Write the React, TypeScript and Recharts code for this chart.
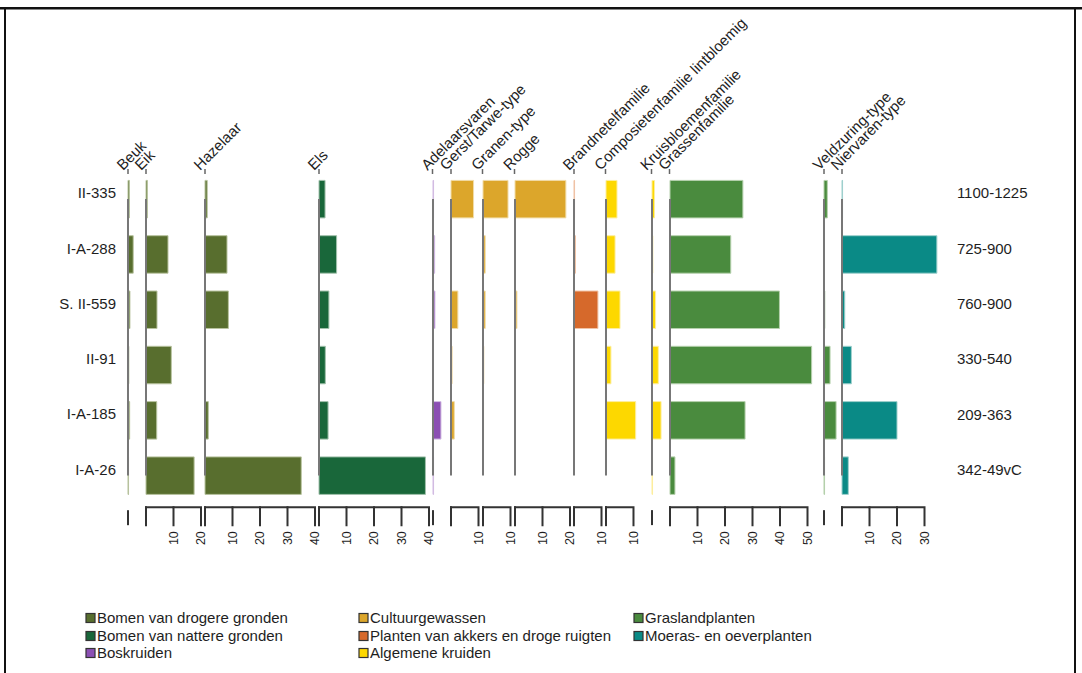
import React from "react";
import { BarChart, Bar, XAxis, YAxis, ReferenceLine } from "recharts";

const samples = ["II-335", "I-A-288", "S. II-559", "II-91", "I-A-185", "I-A-26"];
const ages = ["1100-1225", "725-900", "760-900", "330-540", "209-363", "342-49vC"];

const groupNames = [
  "Bomen van drogere gronden",
  "Bomen van nattere gronden",
  "Boskruiden",
  "Cultuurgewassen",
  "Planten van akkers en droge ruigten",
  "Algemene kruiden",
  "Graslandplanten",
  "Moeras- en oeverplanten",
];

const taxa = [
  "Beuk",
  "Eik",
  "Hazelaar",
  "Els",
  "Adelaarsvaren",
  "Gerst/Tarwe-type",
  "Granen-type",
  "Rogge",
  "Brandnetelfamilie",
  "Composietenfamilie lintbloemig",
  "Kruisbloemenfamilie",
  "Grassenfamilie",
  "Veldzuring-type",
  "Niervaren-type",
];
const taxonGroup = [0, 0, 0, 1, 2, 3, 3, 3, 4, 5, 5, 6, 6, 7];
const scaleMax = [0, 20, 40, 40, 0, 10, 10, 20, 10, 10, 0, 50, 0, 30];

// pollen percentages per sample, top to bottom
const beuk = [0.5, 1.9, 0.7, 0.3, 0.6, 0.2];
const eik = [0.5, 8.0, 4.0, 9.2, 3.9, 17.5];
const hazelaar = [0.8, 8.0, 8.5, 0, 1.2, 35.0];
const els = [2.2, 6.4, 3.6, 2.3, 3.3, 38.7];
const adelaarsvaren = [0.2, 0.6, 0.7, 0, 2.9, 0.2];
const gerstTarwe = [8.2, 0, 2.5, 0.4, 1.2, 0];
const granen = [9.1, 0.8, 0.8, 0.3, 0.2, 0];
const rogge = [18.5, 0, 0.7, 0, 0, 0];
const brandnetel = [0.2, 0.5, 8.7, 0, 0, 0];
const composieten = [4.0, 3.3, 5.1, 1.8, 10.8, 0];
const kruisbloemen = [0.9, 0.3, 1.3, 2.3, 3.3, 0.2];
const grassen = [26.5, 22.1, 39.8, 51.5, 27.3, 1.8];
const veldzuring = [1.2, 0, 0.3, 2.2, 4.4, 0.2];
const niervaren = [0.2, 34.5, 1.0, 3.4, 20.0, 2.3];

const percentages = [
  beuk, eik, hazelaar, els, adelaarsvaren, gerstTarwe, granen,
  rogge, brandnetel, composieten, kruisbloemen, grassen, veldzuring, niervaren,
];

const groupColors = ["#586e2e", "#19673a", "#8b4fb3", "#dca62b", "#d6692b", "#fdd800", "#4a8b3e", "#0a8a86"];
const groupEdges = ["#b8c39f", "#a2c1ac", "#d3bde3", "#f1dca8", "#f0c3a6", "#fdeea0", "#b6d1ad", "#9fd0cd"];

// layout
const W = 1082;
const H = 673;
const PX = 2.75; // pixels per percent
const panelZero = [128, 146, 205, 319, 432.5, 451, 482.5, 514.5, 574, 605.5, 651.5, 669.5, 824, 842];
const PLOT_TOP = 171.4;
const ROW = 55.3;
const AXIS_H = 60;
const PAD = 8;
const INK = "#1e1e1e";
const AXIS = "#333";
const FONT = "'Liberation Sans', Arial, Helvetica, sans-serif";

const scaleTick = (standalone: boolean) => (props: any) => {
  const { x, y, payload } = props;
  const v = payload.value;
  if (standalone) {
    return <path d={`M${x} ${y + 7}V${y + 22}`} stroke={AXIS} strokeWidth={2} fill="none" />;
  }
  const d = v > 0 ? `M${x - 10 * PX} ${y + 4}H${x}V${y + 22}` : `M${x} ${y + 22}V${y + 4}`;
  return (
    <g>
      <path d={d} stroke={AXIS} strokeWidth={2} fill="none" strokeLinecap="square" />
      {v > 0 && (
        <text
          x={x + 4.5}
          y={y + 28}
          transform={`rotate(-90 ${x + 4.5} ${y + 28})`}
          textAnchor="end"
          fontSize={12.5}
          fontFamily={FONT}
          fill={INK}
        >
          {v}
        </text>
      )}
    </g>
  );
};

const sampleTick = (props: any) => (
  <text x={props.x} y={props.y - 6} dy="0.35em" textAnchor="end" fontSize={15} fontFamily={FONT} fill={INK}>
    {props.payload.value}
  </text>
);

const ageTick = (props: any) => (
  <text x={props.x} y={props.y - 6} dy="0.35em" textAnchor="start" fontSize={15} fontFamily={FONT} fill={INK}>
    {props.payload.value}
  </text>
);

function Panel({ i }: { i: number }) {
  const values = percentages[i];
  const ext = Math.max(scaleMax[i], ...values);
  const first = i === 0;
  const last = i === taxa.length - 1;
  const leftW = first ? 128 : 0;
  const rightW = last ? 140 : 0;
  const plotW = ext * PX;
  const width = PAD + leftW + plotW + rightW + PAD;
  const data = samples.map((s, r) => ({ sample: s, age: ages[r], value: values[r] }));
  const ticks: number[] = [];
  for (let t = 0; t <= scaleMax[i]; t += 10) ticks.push(t);
  const g = taxonGroup[i];

  return (
    <div style={{ position: "absolute", left: panelZero[i] - PAD - leftW, top: 0 }}>
      <BarChart
        width={width}
        height={H}
        data={data}
        layout="vertical"
        margin={{ top: PLOT_TOP, bottom: H - PLOT_TOP - ROW * samples.length - AXIS_H, left: PAD, right: PAD }}
      >
        <XAxis
          type="number"
          domain={[0, ext]}
          ticks={ticks}
          interval={0}
          axisLine={false}
          tickLine={false}
          tickSize={0}
          tickMargin={0}
          height={AXIS_H}
          tick={scaleTick(scaleMax[i] === 0)}
        />
        <YAxis
          type="category"
          dataKey="sample"
          hide={!first}
          width={leftW}
          axisLine={false}
          tickLine={false}
          tickSize={0}
          tickMargin={12}
          tick={sampleTick}
        />
        {last && (
          <YAxis
            yAxisId="age"
            orientation="right"
            type="category"
            dataKey="age"
            width={rightW}
            axisLine={false}
            tickLine={false}
            tickSize={0}
            tickMargin={20}
            tick={ageTick}
          />
        )}
        <Bar
          dataKey="value"
          fill={groupColors[g]}
          stroke={groupEdges[g]}
          strokeWidth={1}
          barSize={37.5}
          isAnimationActive={false}
        />
        <ReferenceLine
          segment={[
            { x: 0, y: samples[0] },
            { x: 0, y: samples[samples.length - 1] },
          ]}
          stroke="#777"
          strokeWidth={2}
        />
      </BarChart>
    </div>
  );
}

function Decorations() {
  const legendCols = [86, 359, 634];
  const legendRows = [618, 636, 653];
  return (
    <svg width={W} height={H} style={{ position: "absolute", left: 0, top: 0 }} fontFamily={FONT}>
      <line x1={0} y1={8.2} x2={W} y2={8.2} stroke="#111" strokeWidth={2.6} />
      <line x1={5} y1={8} x2={5} y2={H} stroke="#111" strokeWidth={2} />
      <line x1={1075} y1={8} x2={1075} y2={H} stroke="#111" strokeWidth={2} />
      {taxa.map((name, i) => {
        const x = panelZero[i] - 5;
        const y = 171;
        return (
          <g key={name}>
            <line x1={panelZero[i]} y1={169} x2={panelZero[i]} y2={174} stroke="#666" strokeWidth={1.5} />
            <text x={x} y={y} transform={`rotate(-45 ${x} ${y})`} fontSize={15} fill={INK}>
              {name}
            </text>
          </g>
        );
      })}
      {groupNames.map((name, k) => {
        const x = legendCols[Math.floor(k / 3)];
        const y = legendRows[k % 3];
        return (
          <g key={name}>
            <rect x={x} y={y - 4.5} width={9} height={9} fill={groupColors[k]} stroke="#333" strokeWidth={1.2} />
            <text x={x + 11} y={y} dy="0.35em" fontSize={15} fill={INK}>
              {name}
            </text>
          </g>
        );
      })}
    </svg>
  );
}

export default function App() {
  return (
    <div style={{ position: "absolute", left: 0, top: 0, width: W, height: H, background: "#fff", overflow: "hidden" }}>
      <Decorations />
      {taxa.map((_, i) => (
        <Panel key={i} i={i} />
      ))}
    </div>
  );
}
